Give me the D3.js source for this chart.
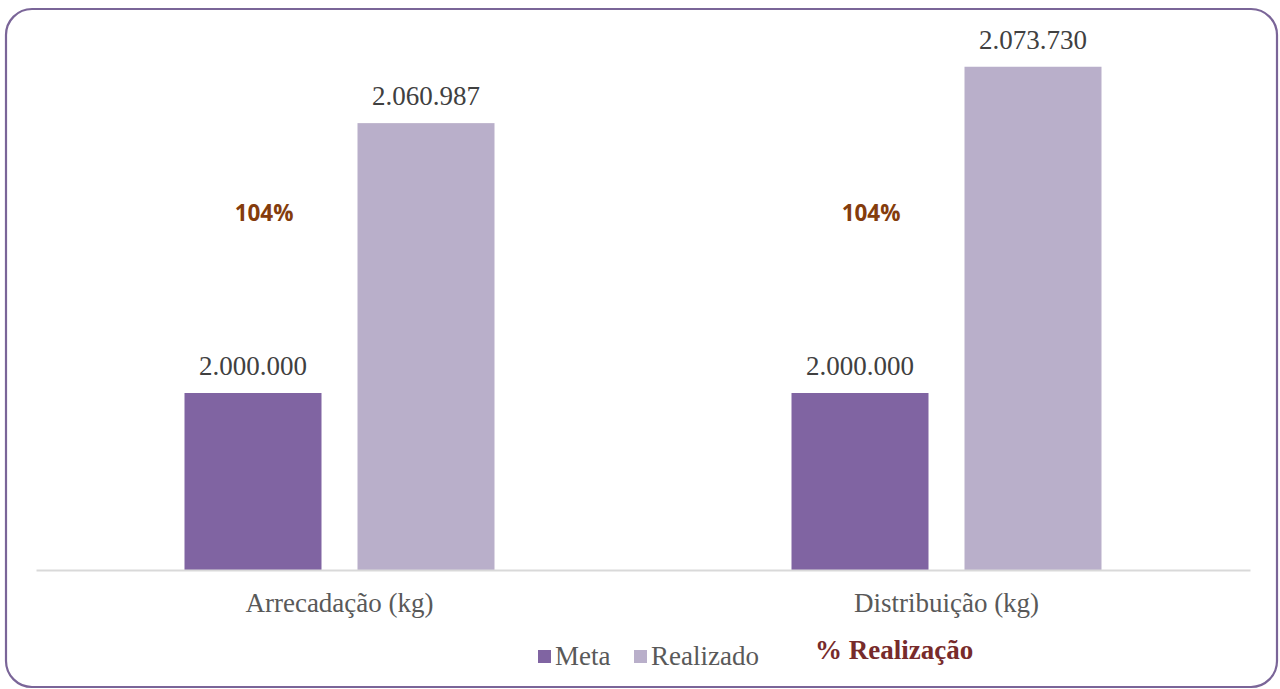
<!DOCTYPE html>
<html><head><meta charset="utf-8">
<script src="https://cdn.jsdelivr.net/npm/d3@7"></script>
<style>html,body{margin:0;padding:0;background:#fff;}svg{display:block;}</style>
</head><body>
<svg id="chart" width="1280" height="689"></svg>
<script>
const categories = ["Arrecadação (kg)", "Distribuição (kg)"];
const seriesNames = ["Meta", "Realizado"];
const meta = [2000000, 2000000];
const realizado = [2060987, 2073730];
const pctLabels = ["104%", "104%"];
const pctLegend = "% Realização";
const colors = ["#8064a2", "#b9afca"];

const svg = d3.select("#chart");
const W = 1280, H = 689;
const plot = {left: 36, right: 1250, top: 39, bottom: 570};

svg.append("rect").attr("x", 6).attr("y", 9).attr("width", 1271).attr("height", 678)
  .attr("rx", 26).attr("ry", 26).attr("fill", "#fff").attr("stroke", "#7a6598").attr("stroke-width", 2.2);

const x0 = d3.scaleBand().domain(categories).range([plot.left, plot.right]).paddingInner(0).paddingOuter(0);
const x1 = d3.scaleBand().domain(seriesNames).range([0, 310]).paddingInner(36/173).paddingOuter(0);
const y = d3.scaleLinear().domain([1960000, 2080000]).range([plot.bottom, plot.top]);

const data = categories.map((c, i) => ({cat: c, vals: [meta[i], realizado[i]], pct: pctLabels[i]}));
const fmt = v => d3.format(",")(v).replace(/,/g, ".");
const serif = "Liberation Serif, Times New Roman, serif";

const g = svg.append("g");
data.forEach(d => {
  const gx = x0(d.cat) + (x0.bandwidth() - 310) / 2;
  seriesNames.forEach((s, j) => {
    const v = d.vals[j];
    g.append("rect").attr("x", gx + x1(s)).attr("y", y(v))
      .attr("width", x1.bandwidth()).attr("height", y.range()[0] - y(v)).attr("fill", colors[j]);
    g.append("text").attr("x", gx + x1(s) + x1.bandwidth() / 2).attr("y", y(v) - 18)
      .attr("text-anchor", "middle").attr("font-family", serif)
      .attr("font-size", 27).attr("fill", "#404040").text(fmt(v));
  });
  g.append("text").attr("x", x0(d.cat) + x0.bandwidth() / 2 - 46).attr("y", 221)
    .attr("text-anchor", "end").attr("font-family", "Open Sans, Liberation Sans, sans-serif")
    .attr("font-weight", "bold").attr("font-size", 22.5).attr("fill", "#843c0c").text(d.pct);
});

// baseline axis
const xAxis = d3.axisBottom(x0).tickSize(0).tickPadding(23);
const ax = svg.append("g").attr("transform", `translate(0,${plot.bottom})`).call(xAxis);
ax.select(".domain").attr("stroke", "#d9d9d9").attr("stroke-width", 2);
ax.selectAll("text").attr("font-family", serif)
  .attr("font-size", 27).attr("fill", "#595959").attr("dy", "0.71em");

// legend
const lg = svg.append("g");
const legItems = [{name: "Meta", x: 538, c: colors[0]}, {name: "Realizado", x: 634, c: colors[1]}];
legItems.forEach(it => {
  lg.append("rect").attr("x", it.x).attr("y", 650).attr("width", 13).attr("height", 13).attr("fill", it.c);
  lg.append("text").attr("x", it.x + 17).attr("y", 665).attr("font-family", serif)
    .attr("font-size", 27).attr("fill", "#595959").text(it.name);
});
lg.append("text").attr("x", 815).attr("y", 659).attr("font-family", serif)
  .attr("font-weight", "bold").attr("font-size", 27).attr("fill", "#772b2b").text(pctLegend);
</script>
</body></html>
